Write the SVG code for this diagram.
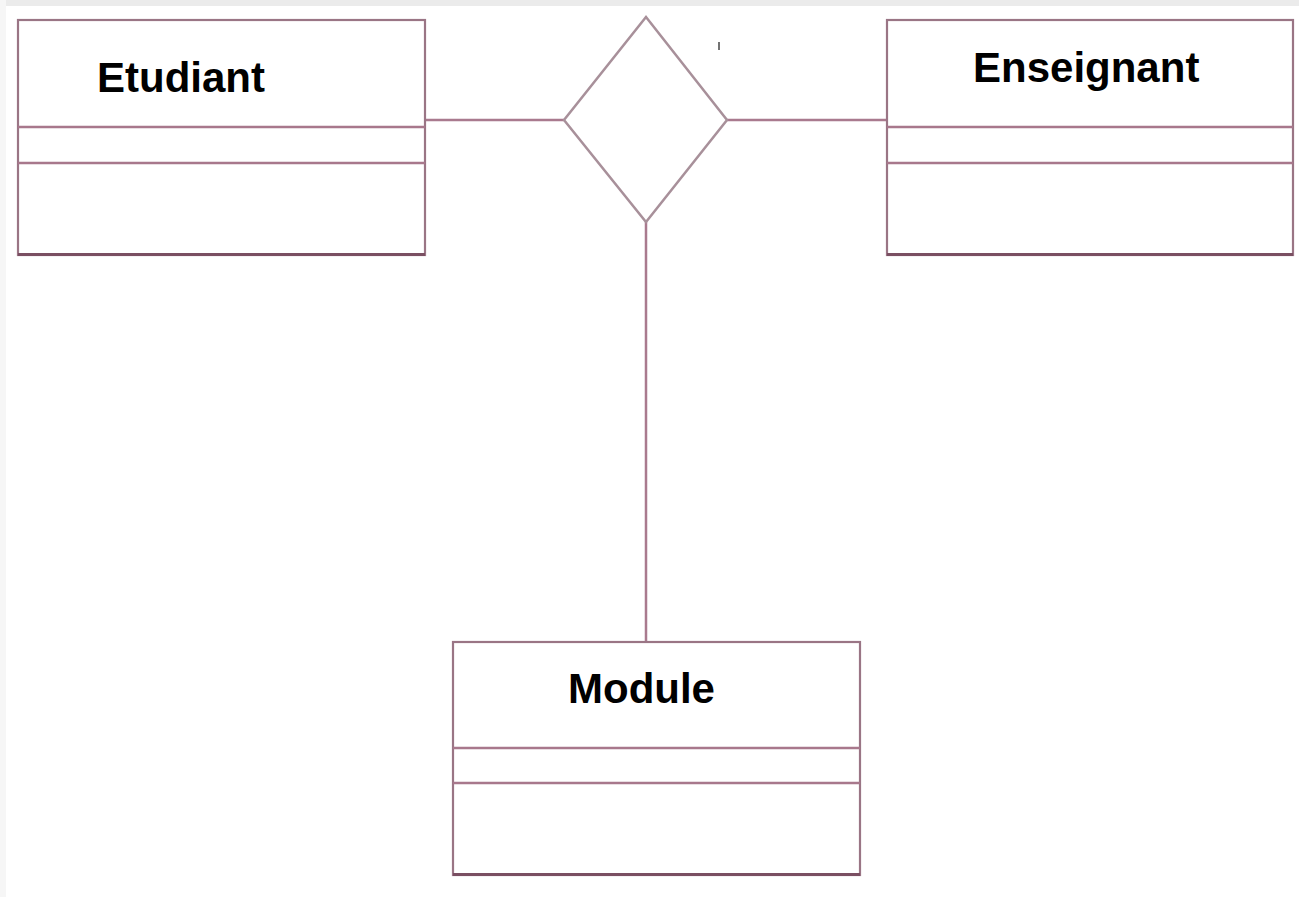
<svg xmlns="http://www.w3.org/2000/svg" width="1299" height="897" viewBox="0 0 1299 897">
<style>
.box{fill:#ffffff;stroke:#9a7585;stroke-width:2.2}
.bottom{stroke:#7a4f62;stroke-width:3}
.div{stroke:#a8788c;stroke-width:2.5}
.conn{stroke:#a97a8e;stroke-width:2.5;fill:none}
.dia{fill:#ffffff;stroke:#a8909a;stroke-width:2.5}
.label{font-family:"Liberation Sans",Arial,sans-serif;font-weight:bold;font-size:42px;fill:#000000}
</style>
<rect x="0" y="0" width="1299" height="897" fill="#ffffff"/>
<rect x="0" y="0" width="1299" height="6" fill="#ebebeb"/>
<rect x="0" y="0" width="6" height="897" fill="#f6f6f6"/>
<g id="connectors">
<line class="conn" x1="425" y1="120" x2="564" y2="120"/>
<line class="conn" x1="727" y1="120" x2="887" y2="120"/>
<line class="conn" x1="646" y1="222" x2="646" y2="642"/>
</g>
<g id="association">
<polygon class="dia" points="646,17 727,120 646,222 564,120"/>
<line x1="719" y1="42" x2="719" y2="50" stroke="#444" stroke-width="1.5"/>
</g>
<g id="etudiant">
<rect class="box" x="18" y="20" width="407" height="235"/>
<line class="div" x1="18" y1="127" x2="425" y2="127"/>
<line class="div" x1="18" y1="163" x2="425" y2="163"/>
<line class="bottom" x1="18" y1="254.5" x2="425" y2="254.5"/>
<text class="label" x="97" y="92">Etudiant</text>
</g>
<g id="enseignant">
<rect class="box" x="887" y="20" width="406" height="235"/>
<line class="div" x1="887" y1="127" x2="1293" y2="127"/>
<line class="div" x1="887" y1="163" x2="1293" y2="163"/>
<line class="bottom" x1="887" y1="254.5" x2="1293" y2="254.5"/>
<text class="label" x="973" y="82">Enseignant</text>
</g>
<g id="module">
<rect class="box" x="453" y="642" width="407" height="233"/>
<line class="div" x1="453" y1="748" x2="860" y2="748"/>
<line class="div" x1="453" y1="783" x2="860" y2="783"/>
<line class="bottom" x1="453" y1="874.5" x2="860" y2="874.5"/>
<text class="label" x="568" y="703">Module</text>
</g>
</svg>
